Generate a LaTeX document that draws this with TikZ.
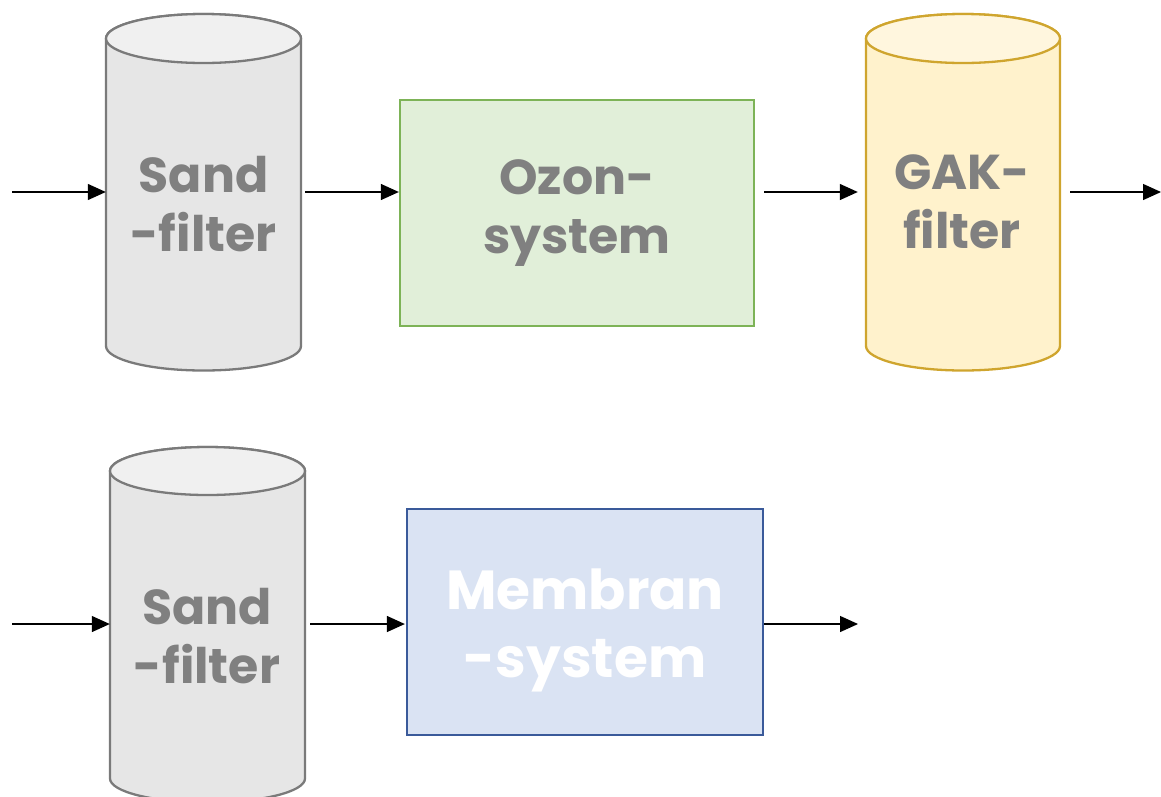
\documentclass[tikz,border=0pt]{standalone}
\usepackage{fontspec}
\setmainfont{Poppins}
\usetikzlibrary{arrows.meta,calc}

\definecolor{grayfill}{HTML}{E6E6E6}
\definecolor{graytop}{HTML}{F0F0F0}
\definecolor{graydraw}{HTML}{7A7A7A}
\definecolor{goldfill}{HTML}{FFF2CC}
\definecolor{goldtop}{HTML}{FFF6DE}
\definecolor{golddraw}{HTML}{CFA52E}
\definecolor{greenfill}{HTML}{E1EFD9}
\definecolor{greendraw}{HTML}{7DB357}
\definecolor{bluefill}{HTML}{DAE3F3}
\definecolor{bluedraw}{HTML}{3A5A9A}
\definecolor{labelgray}{HTML}{808080}

\tikzset{
  tankbox/.style={rectangle, draw=none, inner sep=0pt},
  procbox/.style={rectangle, inner sep=0pt, line width=2.3pt},
  arr/.style={line width=1.3pt, -{Triangle[length=18pt,width=16pt]}},
  lbl/.style={font=\bfseries\fontsize{49}{59}\selectfont, text=labelgray, align=center},
}

% cylinder body between x1..x2, ellipse centres yt (top) and yb (bottom), y radius ry
\newcommand{\tankshape}[8]{%
  \pgfmathsetmacro{\rxx}{(#2-#1)/2}%
  \pgfmathsetmacro{\cxx}{(#2+#1)/2}%
  \filldraw[fill=#6, draw=#8, line width=2.3pt]
    (#1,#3) -- (#1,#4) arc[start angle=180, end angle=0, x radius=\rxx, y radius=#5]
    -- (#2,#3) arc[start angle=0, end angle=-180, x radius=\rxx, y radius=#5] -- cycle;
  \filldraw[fill=#7, draw=#8, line width=2.3pt] (\cxx,#3) ellipse[x radius=\rxx, y radius=#5];
}

\begin{document}
\begin{tikzpicture}[x=1pt, y=-1pt]
\useasboundingbox (0,0) rectangle (1161,796);
\clip (0,0) rectangle (1161,796);

% ---- treatment line 1: sand filter, ozone, activated carbon
\tankshape{106}{301}{38.5}{346}{24.5}{grayfill}{graytop}{graydraw}
\node[tankbox, minimum width=195pt, minimum height=357pt] (sand1) at (203.5,192.5) {};
\node[lbl] (sand1t) at (203.5,204) {Sand\\-filter};

\node[procbox, draw=greendraw, fill=greenfill, minimum width=354pt, minimum height=226pt] (ozon) at (577,213) {};
\node[lbl] (ozont) at (577,213) {Ozon-\\system};

\tankshape{866}{1060}{38.5}{346}{24.5}{goldfill}{goldtop}{golddraw}
\node[tankbox, minimum width=194pt, minimum height=357pt] (gak) at (963,192.5) {};
\node[lbl] (gakt) at (962,202) {GAK-\\filter};

\coordinate (in1) at (12,192);
\coordinate (out1) at (1161,192);
\draw[arr] (in1) -- (sand1.west |- in1);
\draw[arr] ([xshift=4pt]sand1.east |- in1) -- (ozon.west |- in1);
\draw[arr] ([xshift=9pt]ozon.east |- in1) -- ([xshift=-8pt]gak.west |- in1);
\draw[arr] ([xshift=10pt]gak.east |- in1) -- (out1);

% ---- treatment line 2: sand filter, membrane
\tankshape{110}{305}{471}{778.5}{24}{grayfill}{graytop}{graydraw}
\node[tankbox, minimum width=195pt, minimum height=356pt] (sand2) at (207.5,625) {};
\node[lbl] (sand2t) at (207,636) {Sand\\-filter};

\node[procbox, draw=bluedraw, fill=bluefill, minimum width=356pt, minimum height=226pt] (memb) at (585,622) {};
\node[lbl, text=white, font=\bfseries\fontsize{55}{68}\selectfont] (membt) at (585,630) {Membran\\-system};

\coordinate (in2) at (12,624);
\coordinate (out2) at (858,624);
\draw[arr] (in2) -- (sand2.west |- in2);
\draw[arr] ([xshift=5pt]sand2.east |- in2) -- ([xshift=-1pt]memb.west |- in2);
\draw[arr] (memb.east |- in2) -- (out2);
\end{tikzpicture}
\end{document}
